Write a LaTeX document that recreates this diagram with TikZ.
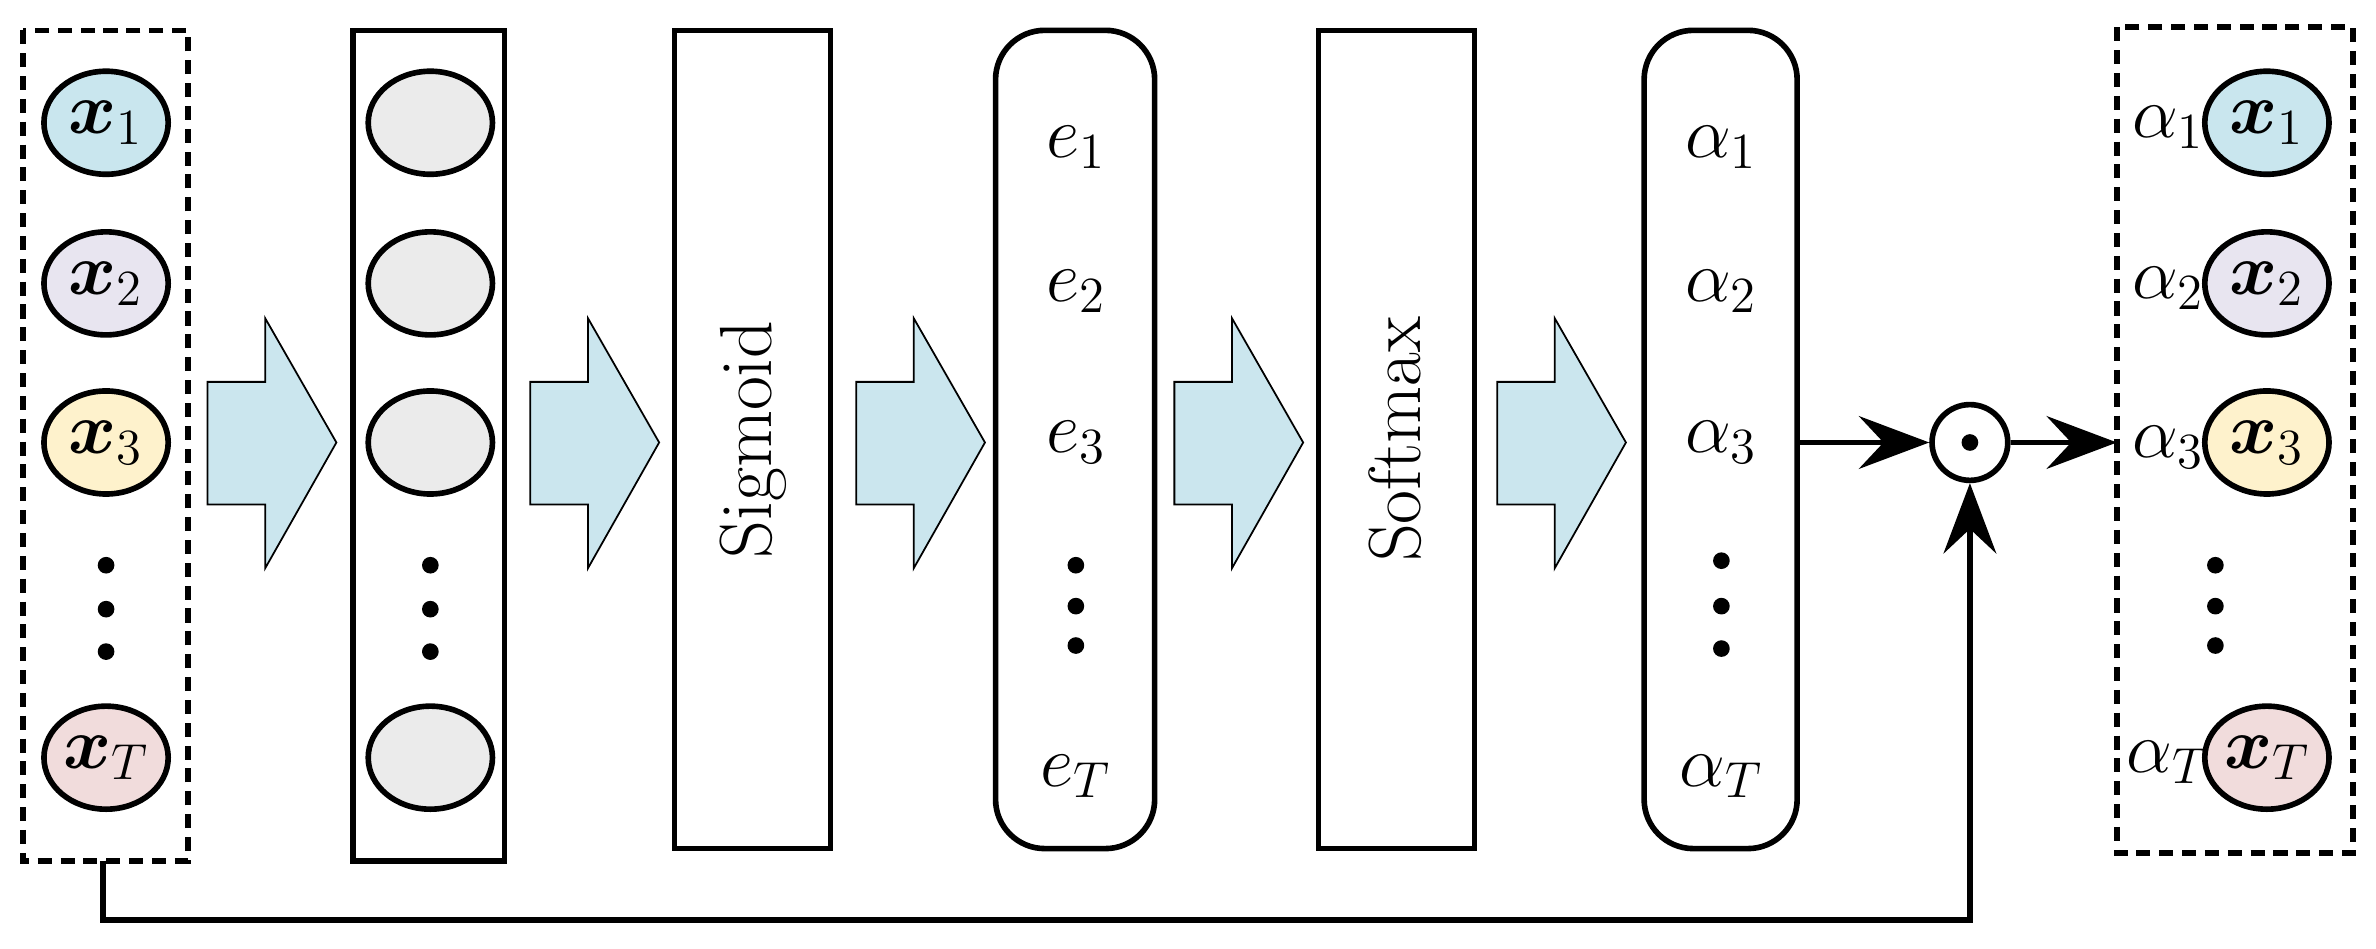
\documentclass[tikz,border=0pt]{standalone}
\usepackage{amsmath,bm}
\usetikzlibrary{shapes.geometric,arrows.meta}
\newdimen\pxu \pxu=0.01515cm
\definecolor{cA}{HTML}{C9E6EE}
\definecolor{cB}{HTML}{E8E5F0}
\definecolor{cC}{HTML}{FEF2CC}
\definecolor{cD}{HTML}{F1DCDC}
\definecolor{cG}{HTML}{EBEBEB}
\definecolor{cF}{HTML}{CBE6EE}
\begin{document}
\begin{tikzpicture}[x=0.01515cm,y=-0.01515cm,
  ell/.style={ellipse,draw,line width=1.6pt,minimum width=82\pxu,minimum height=68\pxu,inner sep=0pt,font=\fontsize{22}{26}\selectfont},
  dashedbox/.style={draw,line width=1.6pt,dash pattern=on 4pt off 2.5pt},
  thickbox/.style={draw,line width=1.6pt},
  bigarr/.style={draw,fill=cF,line width=0.5pt},
  lab/.style={font=\fontsize{22}{26}\selectfont,inner sep=0pt},
  dot/.style={circle,fill,inner sep=0pt,minimum size=11\pxu},
  conn/.style={line width=1.6pt,-{Stealth[length=20pt,width=15pt,inset=7pt]}}]
\useasboundingbox (0,0) rectangle (1568,625.7);
% left dashed box
\draw[dashedbox] (15,20) rectangle (124,568);
\coordinate (lb) at (68,568);
\node[ell,fill=cA] (a1) at (70,81) {$\bm{x}_1$};
\node[ell,fill=cB] (a2) at (70,187) {$\bm{x}_2$};
\node[ell,fill=cC] (a3) at (70,292) {$\bm{x}_3$};
\node[ell,fill=cD] (aT) at (70,500) {$\bm{x}_T$};
\foreach \y in {373,402,430}{\node[dot] at (70,\y) {};}
% big arrows
\foreach \x in {137,350,565,775,988}{
 \draw[bigarr] (\x,252) -- (\x+38,252) -- (\x+38,210) -- (\x+85,292) -- (\x+38,375) -- (\x+38,333) -- (\x,333) -- cycle;}
% box 2
\draw[thickbox] (233,20) rectangle (333,568);
\foreach \y/\n in {81/b1,187/b2,292/b3,500/bT}{\node[ell,fill=cG] (\n) at (284,\y) {};}
\foreach \y in {373,402,430}{\node[dot] at (284,\y) {};}
% sigmoid
\draw[thickbox] (445,20) rectangle (548,560);
\node[rotate=90,font=\fontsize{21}{24}\selectfont] (sig) at (497,290) {Sigmoid};
% e box
\draw[thickbox,rounded corners=14pt] (657,20) rectangle (762,560);
\node[lab] (e1) at (710,97) {$e_1$};
\node[lab] (e2) at (710,192) {$e_2$};
\node[lab] (e3) at (710,292) {$e_3$};
\node[lab] (eT) at (710,512) {$e_T$};
\foreach \y in {373,400,426}{\node[dot] at (710,\y) {};}
% softmax
\draw[thickbox] (870,20) rectangle (973,560);
\node[rotate=90,font=\fontsize{21}{24}\selectfont] (sm) at (921,290) {Softmax};
% alpha box
\draw[thickbox,rounded corners=14pt] (1085,20) rectangle (1186,560);
\node[lab] (l1) at (1136,97) {$\alpha_1$};
\node[lab] (l2) at (1136,192) {$\alpha_2$};
\node[lab] (l3) at (1136,292) {$\alpha_3$};
\node[lab] (lT) at (1136,512) {$\alpha_T$};
\foreach \y in {370,400,428}{\node[dot] at (1136,\y) {};}
\coordinate (ao) at (1186,292);
% odot
\node[circle,draw,line width=1.6pt,minimum size=50\pxu,inner sep=0pt] (od) at (1300,292) {};
\node[dot] at (od) {};
% right dashed box
\draw[dashedbox] (1397,18) rectangle (1553,563);
\coordinate (ri) at (1397,292);
\node[ell,fill=cA] (r1) at (1496,81) {$\bm{x}_1$};
\node[ell,fill=cB] (r2) at (1496,187) {$\bm{x}_2$};
\node[ell,fill=cC] (r3) at (1496,292) {$\bm{x}_3$};
\node[ell,fill=cD] (rT) at (1496,500) {$\bm{x}_T$};
\node[lab] (q1) at (1431,84) {$\alpha_1$};
\node[lab] (q2) at (1431,190) {$\alpha_2$};
\node[lab] (q3) at (1431,295) {$\alpha_3$};
\node[lab] (qT) at (1431,503) {$\alpha_T$};
\foreach \y in {373,400,426}{\node[dot] at (1462,\y) {};}
% connectors
\draw[conn] (ao) -- (od.west);
\draw[conn] (od.east) -- (ri);
\draw[conn] (lb) -- (68,607) -| (od.south);
\end{tikzpicture}
\end{document}
